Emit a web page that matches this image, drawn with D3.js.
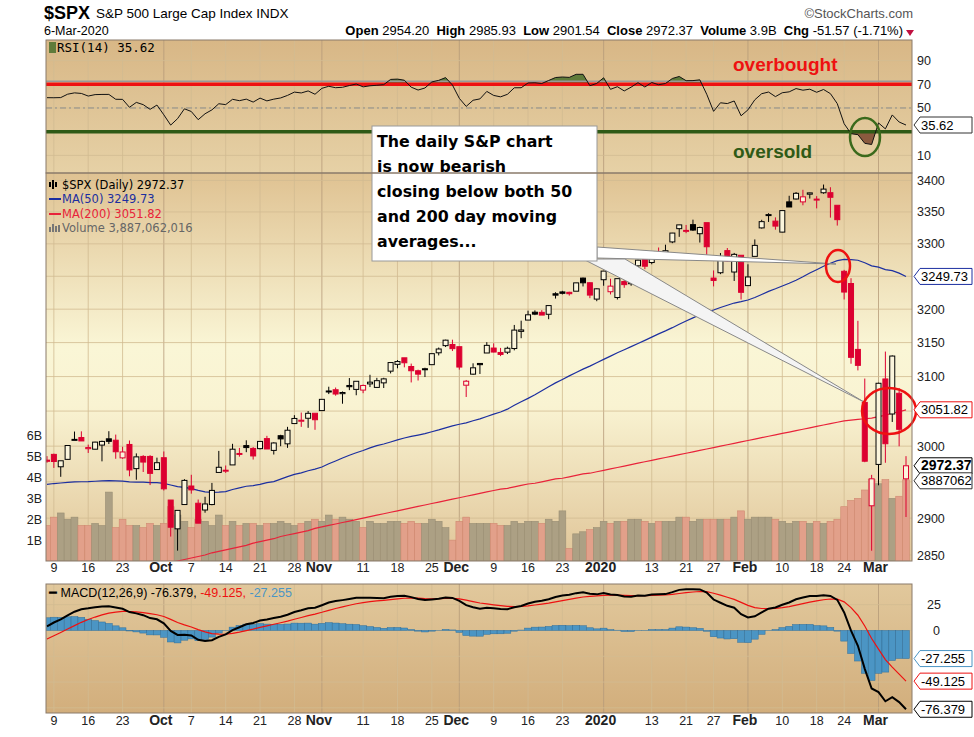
<!DOCTYPE html>
<html><head><meta charset="utf-8">
<script src="https://cdn.jsdelivr.net/npm/d3@7"></script>
<style>body{margin:0;background:#fff}svg{display:block;font-family:"Liberation Sans",Arial,sans-serif}</style>
</head><body><svg id="c" width="974" height="737"></svg>
<script>
// warm-up closes (Jun 26 - Sep 5 2019) so MA50 / RSI / MACD start settled
const priorCloses = [2913.8,2924.9,2941.8,
  2964.3,2973.0,2995.8,2990.4,2975.95,2979.6,2993.1,3004.0,3013.8,3014.3,3004.0,2984.4,2995.1,2976.6,2985.0,3005.5,3019.6,3003.7,3025.9,3020.97,3013.2,2980.4,
  2953.6,2932.1,2844.7,2881.8,2884.0,2938.1,2918.7,2883.1,2926.3,2840.6,2847.6,2888.7,2923.7,2900.5,2924.4,2922.95,2847.1,2878.4,2869.2,2887.9,2924.6,2926.5,
  2906.3,2937.8,2976.0];
const holidays = ["2019-11-28","2019-12-25","2020-01-01","2020-01-20","2020-02-17"];

const opens = [2980.3,2988.4,2971.0,2981.4,3009.1,3012.2,2996.4,2995.7,3001.5,3010.4,3008.4,2983.5,3002.4,2968.4,2985.5,2985.5,2967.1,
  2983.7,2924.8,2885.4,2918.6,2944.2,2920.4,2911.1,2918.6,2963.1,2965.8,2973.6,2989.7,3000.8,2996.8,2996.5,3010.7,2994.0,3014.8,3003.3,3032.1,3035.4,3039.7,3046.9,
  3050.7,3079.0,3080.8,3075.1,3087.0,3081.3,3080.3,3089.3,3084.2,3090.8,3107.9,3117.9,3127.5,3114.7,3108.5,3111.4,3117.4,3134.9,3145.5,3147.2,
  3143.9,3087.4,3103.5,3119.2,3134.6,3141.9,3135.4,3135.8,3141.2,3166.7,3183.6,3195.4,3195.2,3192.3,3223.3,3226.1,3225.5,3227.2,3247.2,3240.1,3215.2,
  3244.7,3226.4,3217.6,3241.9,3238.6,3266.0,3281.0,3271.1,3285.3,3282.3,3303.0,3323.7,3321.0,3330.0,3315.8,3333.1,3247.2,3255.4,3289.5,3256.5,3282.3,
  3235.7,3280.6,3324.9,3344.9,3335.5,3318.3,3365.9,3370.5,3365.9,3378.1,3369.0,3380.4,3380.5,3360.5,3257.6,3238.9,3139.9,3062.5,2916.9,
  2974.3,3096.5,3045.8,3075.7,2954.2];
const highs = [2985.9,2989.4,2979.4,3000.9,3020.7,3021.0,3002.2,3006.2,3007.8,3021.2,3016.4,2999.2,3008.0,2989.8,2987.3,2987.3,2983.8,
  2992.5,2924.8,2911.1,2953.7,2959.8,2925.5,2929.3,2948.5,2993.3,2972.8,3003.3,2997.5,3008.3,2998.7,3007.3,3014.6,3005.5,3016.1,3027.4,3044.1,3047.9,3050.1,3046.9,
  3067.0,3085.2,3084.0,3078.3,3097.8,3093.1,3088.3,3102.6,3098.1,3098.2,3120.5,3124.2,3127.6,3119.0,3110.1,3112.9,3133.8,3142.7,3154.3,3154.3,
  3144.3,3095.0,3119.4,3119.4,3150.6,3148.9,3142.1,3144.0,3176.3,3182.7,3197.7,3198.2,3198.5,3205.5,3225.6,3227.8,3226.4,3240.1,3247.9,3240.9,3231.7,
  3258.1,3246.2,3246.8,3244.9,3267.1,3275.6,3283.0,3288.1,3294.3,3298.7,3317.1,3329.9,3329.5,3337.8,3326.9,3333.2,3258.9,3285.8,3293.5,3285.9,3282.3,
  3268.4,3306.9,3337.6,3348.0,3341.4,3352.3,3375.6,3381.5,3385.1,3380.7,3375.0,3393.5,3389.2,3360.8,3259.8,3247.0,3182.5,3097.1,2959.7,
  3091.0,3136.7,3131.0,3083.0,2985.9];
const lows = [2976.6,2969.4,2957.0,2985.9,3008.8,3008.0,2990.4,2995.3,2978.6,3003.0,2982.2,2982.2,2957.7,2952.9,2963.7,2945.5,2967.1,
  2938.0,2874.9,2855.9,2918.6,2933.6,2892.9,2907.4,2917.6,2963.1,2962.4,2973.6,2985.2,2991.5,2981.1,2995.4,2995.9,2988.2,2999.9,2997.6,3032.1,3027.4,3026.0,3023.2,
  3050.7,3074.5,3072.2,3060.6,3080.2,3072.8,3075.8,3084.7,3083.3,3083.3,3104.6,3112.1,3113.5,3091.4,3094.2,3099.3,3117.4,3131.0,3143.4,3137.5,
  3110.1,3070.3,3102.5,3103.8,3134.6,3135.5,3130.0,3133.0,3138.5,3156.5,3183.6,3191.0,3191.1,3184.9,3216.0,3222.3,3220.5,3227.2,3234.4,3216.6,3212.0,
  3235.5,3222.3,3214.6,3232.4,3235.5,3263.7,3260.9,3268.4,3277.2,3280.7,3301.0,3310.9,3316.6,3320.0,3302.0,3281.5,3234.5,3253.2,3272.1,3242.8,3214.6,
  3235.7,3280.6,3323.8,3334.2,3322.1,3317.8,3365.9,3369.7,3360.5,3371.2,3355.6,3378.8,3341.0,3328.5,3214.6,3118.8,3109.0,2977.4,2855.8,
  2945.2,2976.6,3034.4,2999.8,2901.5];
const closes = [2978.7,2978.4,2979.4,3000.9,3009.6,3007.4,2998.0,3005.7,3006.7,3006.8,2992.1,2991.8,2966.6,2984.9,2977.6,2961.8,2976.7,
  2940.3,2887.6,2910.6,2952.0,2938.8,2893.1,2919.4,2938.1,2970.3,2966.2,2995.7,2989.7,2998.0,2986.2,3006.7,2996.0,3004.5,3010.3,3022.6,3039.4,3036.9,3046.8,3037.6,
  3066.9,3078.3,3074.6,3076.8,3085.2,3093.1,3087.0,3091.8,3094.0,3096.6,3120.5,3122.0,3120.2,3108.5,3103.5,3110.3,3133.6,3140.5,3153.6,3141.0,
  3113.9,3093.2,3112.8,3117.4,3145.9,3136.0,3132.5,3141.6,3168.6,3168.8,3191.5,3192.5,3191.1,3205.4,3221.2,3224.0,3223.4,3239.9,3240.0,3221.3,3230.8,
  3257.9,3234.9,3246.3,3237.2,3253.1,3274.7,3265.4,3288.1,3283.2,3289.3,3316.8,3329.6,3321.0,3321.5,3325.5,3295.5,3243.6,3276.2,3273.4,3283.7,3225.5,
  3248.9,3297.6,3334.7,3345.8,3327.7,3352.1,3357.8,3379.5,3373.9,3380.2,3370.3,3386.2,3373.2,3337.8,3225.9,3128.2,3116.4,2978.8,2954.2,
  3090.2,3003.4,3130.1,3023.9,2972.4];
// volume in billions
const volumes = [1.7,2.1,2.3,2.0,2.1,1.7,1.7,1.8,1.7,3.3,1.6,2.0,1.7,1.7,1.6,1.8,1.7,
  1.8,2.6,2.2,1.9,1.6,2.0,1.9,1.7,2.2,1.7,1.9,1.7,1.8,1.8,1.7,1.8,1.8,1.9,1.8,1.7,1.8,1.9,2.0,
  1.9,2.2,2.0,2.1,2.0,1.9,1.6,1.9,1.8,1.8,1.9,1.9,1.8,1.9,1.8,1.8,2.0,1.9,1.6,1.0,
  1.9,2.1,1.8,1.8,1.8,1.8,1.7,1.7,1.9,1.8,1.9,1.9,1.8,2.0,1.9,2.4,0.6,1.3,1.4,1.5,1.6,
  1.9,1.8,1.9,1.9,2.0,2.0,1.9,1.8,1.9,1.9,1.9,2.1,2.1,1.9,2.0,2.0,2.0,2.0,2.0,2.1,2.4,
  2.0,2.1,2.1,2.1,2.0,1.9,1.8,1.9,1.9,1.8,1.9,1.8,1.9,2.0,2.6,2.9,3.0,3.4,3.9,
  3.7,3.9,3.0,3.1,3.887062016];
const ma200 = [2804,2806,2808,2810,2812,2814,2816,2818,2820,2822,2824,2826,2828,2830,2832,2834,2836,
  2838,2840,2842,2844,2846,2848,2850,2853,2855,2857,2859,2861,2863,2866,2868,2870,2872,2875,2877,2879,2881,2883,2886,
  2888,2890,2892,2894,2896,2898,2900,2902,2904,2906,2908,2910,2912,2914,2916,2918,2920,2922,2924,2926,
  2928,2930,2932,2934,2936,2938,2940,2941,2943,2945,2947,2948,2950,2952,2954,2955,2957,2959,2961,2962,2964,
  2966,2968,2970,2972,2974,2976,2978,2980,2982,2984,2986,2988,2990,2992,2994,2996,2998,3000,3002,3004,3006,
  3008,3010,3012,3014,3016,3018,3020,3022,3024,3026,3028,3030,3032,3034,3036,3037,3038,3039,3040,
  3042,3044,3047,3049,3051.82];
const priceTicks = [3400,3350,3300,3250,3200,3150,3100,3050,3000,2950,2900,2850];
const volTicks = [1,2,3,4,5,6];
const rsiTicks = [90,70,50,30,10];
const macdTicks = [25,0];
const monthLabels = ["Oct","Nov","Dec","2020","Feb","Mar"];
const dateTicks = [["2019-09-09","9"],["2019-09-16","16"],["2019-09-23","23"],["2019-10-01","Oct"],["2019-10-07","7"],["2019-10-14","14"],["2019-10-21","21"],["2019-10-28","28"],["2019-11-01","Nov"],["2019-11-11","11"],["2019-11-18","18"],["2019-11-25","25"],["2019-12-02","Dec"],["2019-12-09","9"],["2019-12-16","16"],["2019-12-23","23"],["2020-01-02","2020"],["2020-01-13","13"],["2020-01-21","21"],["2020-01-27","27"],["2020-02-03","Feb"],["2020-02-10","10"],["2020-02-18","18"],["2020-02-24","24"],["2020-03-02","Mar"]];

const fmt = d3.timeFormat("%Y-%m-%d");
const dates = d3.timeDay.range(new Date(2019,8,6), new Date(2020,2,7))
  .filter(d => d.getDay()%6 !== 0 && !holidays.includes(fmt(d))).map(fmt);
const n = closes.length;

// indicators from the closes
const all = priorCloses.concat(closes), P = priorCloses.length;
const ma50 = closes.map((c,i) => d3.mean(all.slice(P+i-49, P+i+1)));
let ag=0, al=0; const rsiAll = [];
for (let i=1;i<all.length;i++){const ch=all[i]-all[i-1];
  if(i<=14){ag+=Math.max(ch,0)/14;al+=Math.max(-ch,0)/14;}
  else{ag=(ag*13+Math.max(ch,0))/14;al=(al*13+Math.max(-ch,0))/14;}
  rsiAll.push(100-100/(1+ag/al));}
const rsi = rsiAll.slice(P-1);
let e12=all[0],e26=all[0],sig=0; const macd=[],signal=[];
all.forEach((c,i)=>{e12=e12+(c-e12)*2/13;e26=e26+(c-e26)*2/27;const m=e12-e26;sig=i===0?m:sig+(m-sig)*0.2;
  if(i>=P){macd.push(m);signal.push(sig);}});
const hist = macd.map((m,i)=>m-signal[i]);

const svg = d3.select("#c");
const L=46, R=912;
const x = d3.scaleLinear().domain([0,n-1]).range([47,906]);
const xd = d => x(dates.indexOf(d));
const isMonth = l => monthLabels.includes(l);
const rsiP={t:40,b:173}, mainP={t:173,b:561}, macdP={t:584,b:713};
const yR = d3.scaleLinear().domain([-4.9,107.4]).range([rsiP.b,rsiP.t]);
const yP = d3.scaleLog().domain([2842,3412]).range([mainP.b,mainP.t]);
const yV = d3.scaleLinear().domain([0,6]).range([561,435.7]);
const yM = d3.scaleLinear().domain([-80,45]).range([macdP.b,macdP.t]);

const defs = svg.append("defs");
function grad(id, stops){const g=defs.append("linearGradient").attr("id",id).attr("x1",0).attr("x2",0).attr("y1",0).attr("y2",1);
  stops.forEach(([o,c])=>g.append("stop").attr("offset",o).attr("stop-color",c));}
grad("gR",[[0,"#d8b786"],[1,"#e6d1a6"]]);
grad("gM",[[0,"#dfc292"],[0.45,"#faf6d6"],[0.6,"#f9f3d2"],[1,"#e0c598"]]);
grad("gC",[[0,"#e1c89c"],[1,"#d2ae7c"]]);
function clip(id,p){defs.append("clipPath").attr("id",id).append("rect").attr("x",L).attr("y",p.t).attr("width",R-L).attr("height",p.b-p.t);}
clip("cR",rsiP);clip("cM",mainP);clip("cC",macdP);

function panel(p,fill,yTicks,ys){
  svg.append("rect").attr("x",L).attr("y",p.t).attr("width",R-L).attr("height",p.b-p.t).attr("fill",fill);
  const g=svg.append("g").attr("stroke-width",0.8);
  dateTicks.forEach(([d,l])=>g.append("line").attr("x1",xd(d)).attr("x2",xd(d)).attr("y1",p.t).attr("y2",p.b)
    .attr("stroke",isMonth(l)?"#b59a78":"#d2bb92"));
  yTicks.forEach(v=>g.append("line").attr("x1",L).attr("x2",R).attr("y1",ys(v)).attr("y2",ys(v)).attr("stroke","#d2bb92"));
}
panel(rsiP,"url(#gR)",rsiTicks,yR);
panel(mainP,"url(#gM)",priceTicks,yP);
panel(macdP,"url(#gC)",[25,0,-25,-50,-75],yM);

// header
const hd=svg.append("g").attr("fill","#000");
hd.append("text").attr("x",44).attr("y",19).attr("font-size",18).attr("font-weight","bold").text("$SPX");
hd.append("text").attr("x",96).attr("y",18).attr("font-size",13.5).text("S&P 500 Large Cap Index  INDX");
hd.append("text").attr("x",913).attr("y",18).attr("font-size",13).attr("text-anchor","end").attr("fill","#555").text("©StockCharts.com");
hd.append("text").attr("x",44).attr("y",35).attr("font-size",12.5).text("6-Mar-2020");
const info=hd.append("text").attr("x",903).attr("y",35).attr("font-size",13).attr("text-anchor","end");
[["Open",1],[" 2954.20  ",0],["High",1],[" 2985.93  ",0],["Low",1],[" 2901.54  ",0],["Close",1],[" 2972.37  ",0],["Volume",1],[" 3.9B  ",0],["Chg",1],[" -51.57 (-1.71%)",0]]
  .forEach(([t,b])=>info.append("tspan").attr("font-weight",b?"bold":"normal").attr("xml:space","preserve").text(t));
hd.append("path").attr("d","M906,30 L914,30 L910,36 Z").attr("fill","#c01040");

// RSI panel
const gr=svg.append("g").attr("clip-path","url(#cR)");
defs.append("clipPath").attr("id","ab70").append("rect").attr("x",L).attr("y",rsiP.t).attr("width",R-L).attr("height",yR(70)-rsiP.t);
defs.append("clipPath").attr("id","be30").append("rect").attr("x",L).attr("y",yR(30)).attr("width",R-L).attr("height",rsiP.b-yR(30));
gr.append("path").attr("clip-path","url(#ab70)").attr("fill","#5f7b3a").attr("d",d3.area().x((d,i)=>x(i)).y0(yR(70)).y1(d=>yR(d))(rsi));
gr.append("path").attr("clip-path","url(#be30)").attr("fill","#8a5a3e").attr("d",d3.area().x((d,i)=>x(i)).y0(yR(30)).y1(d=>yR(d))(rsi));
gr.append("line").attr("x1",L).attr("x2",R).attr("y1",yR(50)).attr("y2",yR(50)).attr("stroke","#8c8c8c").attr("stroke-dasharray","6,3,2,3");
gr.append("line").attr("x1",L).attr("x2",R).attr("y1",yR(70)-3).attr("y2",yR(70)-3).attr("stroke","#999").attr("stroke-width",1.5);
gr.append("line").attr("x1",L).attr("x2",R).attr("y1",yR(70)).attr("y2",yR(70)).attr("stroke","#ee1111").attr("stroke-width",3.5);
gr.append("line").attr("x1",L).attr("x2",R).attr("y1",yR(30)).attr("y2",yR(30)).attr("stroke","#2f5a16").attr("stroke-width",3.5);
gr.append("path").attr("fill","none").attr("stroke","#111").attr("stroke-width",1).attr("d",d3.line().x((d,i)=>x(i)).y(d=>yR(d))(rsi));
svg.append("rect").attr("x",49).attr("y",42).attr("width",7).attr("height",11).attr("fill","#5f7b3a");
svg.append("text").attr("x",57).attr("y",52).attr("font-size",12.5).attr("font-family","DejaVu Sans Mono, monospace").text("RSI(14) 35.62");
svg.append("text").attr("x",733).attr("y",71).attr("font-size",19).attr("font-weight","bold").attr("fill","#ee1111").text("overbought");
svg.append("text").attr("x",733).attr("y",158).attr("font-size",19).attr("font-weight","bold").attr("fill","#2f5a16").text("oversold");
svg.append("ellipse").attr("cx",865).attr("cy",137).attr("rx",15).attr("ry",19).attr("fill","none").attr("stroke","#3b6a1c").attr("stroke-width",2.5);

// main panel
const gm=svg.append("g").attr("clip-path","url(#cM)");
const up=i=> i===0 ? closes[0]>=opens[0] : closes[i]>=closes[i-1];
gm.selectAll(".v").data(volumes).join("rect").attr("x",(d,i)=>x(i)-3.4).attr("width",6.8).attr("y",d=>yV(d)).attr("height",d=>561-yV(d))
  .attr("fill",(d,i)=>up(i)?"#aca084":"#e2a08a").attr("stroke",(d,i)=>up(i)?"#998e74":"#d08870").attr("stroke-width",0.6);
gm.append("path").attr("fill","none").attr("stroke","#e8233a").attr("stroke-width",1.2).attr("d",d3.line().x((d,i)=>x(i)).y(d=>yP(d))(ma200));
gm.append("path").attr("fill","none").attr("stroke","#1c2fa0").attr("stroke-width",1.2).attr("d",d3.line().x((d,i)=>x(i)).y(d=>yP(d))(ma50));
closes.forEach((c,i)=>{
  const col=up(i)?"#000":"#dc0030", o=opens[i], top=yP(Math.max(o,c)), bot=yP(Math.min(o,c));
  gm.append("line").attr("x1",x(i)).attr("x2",x(i)).attr("y1",yP(highs[i])).attr("y2",top).attr("stroke",col);
  gm.append("line").attr("x1",x(i)).attr("x2",x(i)).attr("y1",bot).attr("y2",yP(lows[i])).attr("stroke",col);
  gm.append("rect").attr("x",x(i)-2.5).attr("width",5).attr("y",top).attr("height",Math.max(bot-top,1))
    .attr("fill",c<o?col:"#fbf5dc").attr("stroke",col).attr("stroke-width",1);
});
const lg=svg.append("g").attr("font-family","DejaVu Sans, sans-serif").attr("font-size",11.5);
lg.append("text").attr("x",62).attr("y",189).text("$SPX (Daily) 2972.37");
lg.append("path").attr("d","M50,182v5M53,180v9M56,182v5").attr("stroke","#000").attr("stroke-width",2);
lg.append("line").attr("x1",49).attr("x2",61).attr("y1",199).attr("y2",199).attr("stroke","#1c2fa0").attr("stroke-width",2);
lg.append("text").attr("x",62).attr("y",203).attr("fill","#1c2fa0").text("MA(50) 3249.73");
lg.append("line").attr("x1",49).attr("x2",61).attr("y1",214).attr("y2",214).attr("stroke","#e8233a").attr("stroke-width",2);
lg.append("text").attr("x",62).attr("y",218).attr("fill","#e8233a").text("MA(200) 3051.82");
lg.append("path").attr("d","M50,232v-5M53,232v-8M56,232v-6M59,232v-7").attr("stroke","#777").attr("stroke-width",2);
lg.append("text").attr("x",62).attr("y",232).attr("fill","#666").text("Volume 3,887,062,016");

// annotation
const an=svg.append("g");
an.append("polygon").attr("points","597,247 836,264 597,258").attr("fill","#fff").attr("stroke","#888");
an.append("polygon").attr("points","583,259 864,402 625,259").attr("fill","#f4f4f4").attr("stroke","#888");
an.append("rect").attr("x",372).attr("y",126).attr("width",225).attr("height",135).attr("fill","#fff").attr("stroke","#999");
["The daily S&P chart","is now bearish","closing below both 50","and 200 day moving","averages..."].forEach((t,i)=>
  an.append("text").attr("x",377).attr("y",147+i*25).attr("font-family","DejaVu Sans, sans-serif").attr("font-weight","bold").attr("font-size",15.8).text(t));
svg.append("ellipse").attr("cx",838).attr("cy",266).attr("rx",12).attr("ry",16).attr("fill","none").attr("stroke","#ee1111").attr("stroke-width",2.5);
svg.append("ellipse").attr("cx",889).attr("cy",411).attr("rx",27).attr("ry",23).attr("fill","none").attr("stroke","#ee1111").attr("stroke-width",2.5);

// MACD panel
const gc=svg.append("g").attr("clip-path","url(#cC)");
gc.selectAll(".h").data(hist).join("rect").attr("x",(d,i)=>x(i)-3.4).attr("width",6.8)
  .attr("y",d=>yM(Math.max(0,d))).attr("height",d=>Math.abs(yM(d)-yM(0))).attr("fill","#4b95c4").attr("stroke","#2f6f9c").attr("stroke-width",0.5);
gc.append("path").attr("fill","none").attr("stroke","#ee1111").attr("stroke-width",1.2).attr("d",d3.line().x((d,i)=>x(i)).y(d=>yM(d))(signal));
gc.append("path").attr("fill","none").attr("stroke","#000").attr("stroke-width",2).attr("d",d3.line().x((d,i)=>x(i)).y(d=>yM(d))(macd));
const mt=svg.append("text").attr("x",49).attr("y",597).attr("font-size",12.5);
[["━ MACD(12,26,9) -76.379, ","#000"],["-49.125, ","#ee1111"],["-27.255","#4b95c4"]].forEach(([t,c])=>mt.append("tspan").attr("fill",c).text(t));

// panel borders
[rsiP,mainP,macdP].forEach(p=>svg.append("rect").attr("x",L).attr("y",p.t).attr("width",R-L).attr("height",p.b-p.t).attr("fill","none").attr("stroke","#8a7a6a"));

// value tags on the right axis
const tags = [
  [yR(35.62),"35.62","#333"],
  [yP(3249.73),"3249.73","#1c2fa0"],
  [yP(3051.82),"3051.82","#ee1111"],
  [yP(2972.37),"2972.37","#000",true],
  [yP(2972.37)+15,"3887062","#333"],
  [yM(-27.255),"-27.255","#4b95c4"],
  [yM(-49.125),"-49.125","#ee1111"],
  [yM(-76.379),"-76.379","#000"]];
const nearTag = y => tags.some(t => Math.abs(t[0]-y) < 11);

// axes labels
const ax=svg.append("g").attr("font-size",12.5).attr("fill","#222");
priceTicks.filter(v=>!nearTag(yP(v))).forEach(v=>ax.append("text").attr("x",917).attr("y",yP(v)+4.5).text(v));
rsiTicks.filter(v=>!nearTag(yR(v))).forEach(v=>ax.append("text").attr("x",917).attr("y",yR(v)+4.5).text(v));
macdTicks.forEach(v=>ax.append("text").attr("x",v?927:933).attr("y",yM(v)+4.5).text(v));
volTicks.forEach(v=>ax.append("text").attr("x",42).attr("y",yV(v)+4.5).attr("text-anchor","end").text(v+"B"));
[572,725].forEach(yy=>dateTicks.forEach(([d,l])=>{const b=isMonth(l);
  ax.append("text").attr("x",xd(d)+(b?-3:0)).attr("y",yy).attr("text-anchor","middle").attr("font-weight",b?"bold":"normal").attr("font-size",b?14:12.5).text(l);}));

tags.forEach(([y,t,col,bold])=>{
  const g=svg.append("g");
  g.append("path").attr("d",`M914,${y} l6,-8 h52 v16 h-52 Z`).attr("fill","#fff").attr("stroke",col);
  g.append("text").attr("x",921).attr("y",y+4.5).attr("font-size",bold?14:13).attr("font-weight",bold?"bold":"normal").attr("fill","#000").text(t);
});
</script></body></html>
